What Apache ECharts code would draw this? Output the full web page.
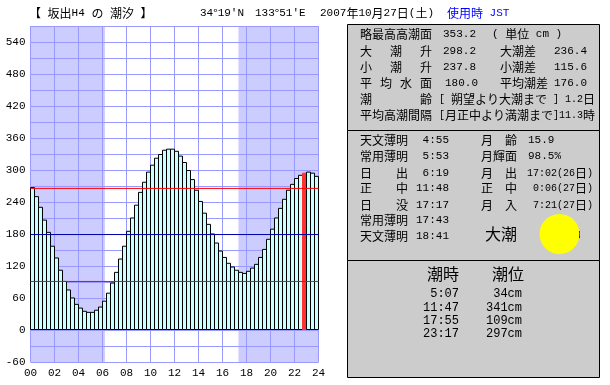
<!DOCTYPE html>
<html>
<head>
<meta charset="utf-8">
<title>坂出H4 の 潮汐</title>
<style>
html, body { margin: 0; padding: 0; background: #fff; }
#main { width: 610px; height: 385px; }
</style>
<script src="https://cdn.jsdelivr.net/npm/echarts@6/dist/echarts.min.js"></script>
</head>
<body>
<div id="main"></div>
<script>
// 20 minute samples, 00:00 to 24:00 (cm)
const tideCm = [
  268, 251, 231, 207, 184, 158, 136, 113, 92, 76, 61, 49,
  42, 36, 34, 34, 38, 44, 55, 70, 89, 109, 134, 158,
  186, 211, 235, 259, 278, 297, 310, 323, 330, 338, 340, 340,
  336, 327, 315, 300, 283, 263, 242, 220, 199, 181, 164, 149,
  137, 126, 119, 113, 109, 107, 111, 117, 124, 137, 152, 171,
  190, 211, 229, 246, 263, 274, 285, 291, 295, 297, 295, 289
];
const currentBar = 68;
const nightBefore = 6.2;
const nightAfter = 17.33;
// levels
const meanHigh = 265.5;
const meanLevel = 179;
const meanLow = 91;

const titleTexts = [
  ['【 坂出H4 の 潮汐 】', 29, '#000'],
  ["34°19'N", 200, '#000'],
  ["133°51'E", 255, '#000'],
  ['2007年10月27日(土)', 320, '#000'],
  ['使用時 JST', 447, '#0000ff']
];
// label, label x, label width, text, text x
const tideRows = [
  [34, '略最高高潮面', 360, 72, '353.2', 443],
  [34, '', 0, 0, '( 単位 cm )', 492],
  [51, '大潮升', 360, 72, '298.2', 443],
  [51, '大潮差', 500, 36, '236.4', 554],
  [67, '小潮升', 360, 72, '237.8', 443],
  [67, '小潮差', 500, 36, '115.6', 554],
  [83, '平均水面', 360, 72, '180.0', 445],
  [83, '平均潮差', 500, 48, '176.0', 554],
  [99, '潮齢', 360, 72, '[ 朔望より大潮まで ] 1.2日', 439],
  [115, '平均高潮間隔', 360, 72, '[月正中より満潮まで]11.3時', 439]
];
const sunRows = [
  [140, '天文薄明', '4:55'],
  [156, '常用薄明', '5:53'],
  [173, '日出', '6:19'],
  [188, '正中', '11:48'],
  [205, '日没', '17:17'],
  [220, '常用薄明', '17:43'],
  [236, '天文薄明', '18:41']
];
const moonRows = [
  [140, '月齢', '15.9', 'left'],
  [156, '月輝面', '98.5%', 'left'],
  [173, '月出', '17:02(26日)', 'right'],
  [188, '正中', '0:06(27日)', 'right'],
  [205, '月入', '7:21(27日)', 'right']
];
const turnTimes = ['5:07', '11:47', '17:55', '23:17'];
const turnLevels = ['34cm', '341cm', '109cm', '297cm'];

const asciiFont = '"Liberation Mono", monospace';
const cjkFont = '"Noto Sans CJK JP", sans-serif';

// ascii is half the width of kanji, like the bitmap font of the original
function txt(str, x, y, opt) {
  opt = opt || {};
  const parts = str.match(/[\x20-\x7e]+|[^\x20-\x7e]+/g) || [];
  const body = parts.map(p => (/^[\x20-\x7e]/.test(p) ? '{a|' : '{j|') + p + '}').join('');
  const fill = opt.color || '#000';
  return {
    type: 'text', x: x, y: y, silent: true,
    style: {
      text: body, align: opt.align || 'left', verticalAlign: 'middle', fill: fill,
      rich: {
        a: { fontFamily: asciiFont, fontSize: opt.ascii || 11, fill: fill },
        j: { fontFamily: cjkFont, fontSize: opt.cjk || 12, fill: fill }
      }
    }
  };
}

// spread the characters of a label over a fixed width
function spread(label, x, y, width) {
  const chars = Array.from(label);
  return chars.map((c, i) => {
    const step = chars.length > 1 ? (width - 12) / (chars.length - 1) : 0;
    return txt(c, x + i * step, y);
  });
}

function panel(y, h) {
  return {
    type: 'rect', silent: true,
    shape: { x: 347.5, y: y + 0.5, width: 252, height: h },
    style: { fill: '#cccccc', stroke: '#000', lineWidth: 1 }
  };
}

function levelLine(value, color) {
  return {
    type: 'line', z: 3, silent: true, symbol: 'none',
    lineStyle: { color: color, width: 1 },
    data: [[0, value], [24, value]]
  };
}

const graphics = [panel(24, 106), panel(130, 130), panel(260, 117)];
titleTexts.forEach(t => graphics.push(txt(t[0], t[1], 13, { color: t[2] })));
tideRows.forEach(r => {
  if (r[1]) graphics.push(...spread(r[1], r[2], r[0], r[3]));
  // the two long bracket rows need the narrower ascii to fit the panel
  graphics.push(txt(r[4], r[5], r[0], { ascii: r[0] >= 99 ? 10 : 11 }));
});
sunRows.forEach(r => {
  graphics.push(...spread(r[1], 360, r[0], 48));
  graphics.push(txt(r[2], 449, r[0], { align: 'right' }));
});
moonRows.forEach(r => {
  graphics.push(...spread(r[1], 481, r[0], 36));
  if (r[3] === 'left') graphics.push(txt(r[2], 528, r[0]));
  else graphics.push(txt(r[2], 593, r[0], { align: 'right', ascii: 10 }));
});
graphics.push(txt('大潮', 485, 234, { cjk: 16 }));
graphics.push({ type: 'rect', silent: true, shape: { x: 578.5, y: 231, width: 1.5, height: 7 }, style: { fill: '#000' } });
graphics.push({ type: 'circle', silent: true, shape: { cx: 559.5, cy: 234, r: 20 }, style: { fill: '#ffff00' } });
graphics.push(txt('潮時', 427, 274, { cjk: 16 }));
graphics.push(txt('潮位', 492, 274, { cjk: 16 }));
turnTimes.forEach((t, i) => {
  const y = 294 + i * 13.4;
  graphics.push(txt(t, 459, y, { align: 'right', ascii: 12 }));
  graphics.push(txt(turnLevels[i], 522, y, { align: 'right', ascii: 12 }));
});

const chart = echarts.init(document.getElementById('main'), null, { renderer: 'canvas' });
chart.setOption({
  animation: false,
  backgroundColor: '#fff',
  grid: { left: 30.5, top: 26, width: 288, height: 336 },
  xAxis: {
    type: 'value', min: 0, max: 24, interval: 2, z: 1,
    axisLine: { show: false }, axisTick: { show: false },
    axisLabel: {
      margin: 6, color: '#000', fontFamily: asciiFont, fontSize: 11,
      formatter: v => String(v).padStart(2, '0')
    },
    splitLine: { show: true, lineStyle: { color: '#9999ff', width: 1 } }
  },
  yAxis: {
    type: 'value', min: -60, max: 570, interval: 30, z: 1,
    axisLine: { show: false }, axisTick: { show: false },
    axisLabel: {
      margin: 5, color: '#000', fontFamily: asciiFont, fontSize: 11,
      formatter: v => (v % 60 === 0 && v <= 540 ? String(v) : '')
    },
    splitLine: { show: true, lineStyle: { color: '#9999ff', width: 1 } }
  },
  series: [
    {
      type: 'bar', z: 2, barWidth: 5, silent: true,
      data: tideCm.map((v, i) => ({
        value: [(i + 0.5) / 3, v],
        itemStyle: i === currentBar ? { color: '#ff3333', borderColor: '#ff3333' } : undefined
      })),
      itemStyle: { color: '#ccffff', borderColor: '#000', borderWidth: 1 },
      markArea: {
        z: 0, silent: true,
        itemStyle: { color: '#ccccff' },
        data: [
          [{ xAxis: 0 }, { xAxis: nightBefore }],
          [{ xAxis: nightAfter }, { xAxis: 24 }]
        ]
      }
    },
    levelLine(meanHigh, '#ff0000'),
    levelLine(meanLevel, '#0000aa'),
    levelLine(meanLow, '#ff0000')
  ],
  graphic: { elements: graphics }
});
</script>
</body>
</html>
